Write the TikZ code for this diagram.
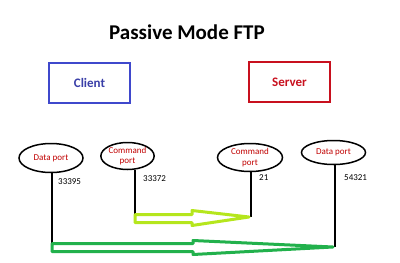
\documentclass[tikz,border=0pt]{standalone}
\usepackage{fontspec}
\setmainfont{Carlito}
\usepackage{xcolor}
\usetikzlibrary{calc,shapes.geometric}

\definecolor{clientblue}{HTML}{3F48CC}
\definecolor{clienttext}{HTML}{3A3FA8}
\definecolor{serverred}{HTML}{C8101E}
\definecolor{portred}{HTML}{C00000}
\definecolor{cmdgreen}{HTML}{B5E61D}
\definecolor{datagreen}{HTML}{22B14C}

\tikzset{
  hostbox/.style={draw, line width=2pt, minimum width=81pt, minimum height=40pt, font=\fontsize{13}{15}\selectfont\bfseries},
  portellipse/.style={draw, ellipse, line width=1.5pt, inner sep=0pt, align=center, text=portred, font=\fontsize{9}{10.5}\selectfont},
  portnum/.style={anchor=west, inner sep=0pt, font=\fontsize{9}{10}\selectfont},
  portline/.style={line width=2pt},
  cmdarrow/.style={draw=cmdgreen, line width=3pt, fill=white, line join=round},
  dataarrow/.style={draw=datagreen, line width=3pt, fill=white, line join=round}
}

\begin{document}
\begin{tikzpicture}[x=1pt, y=-1pt]
    \useasboundingbox (0,0) rectangle (400,263);
    \node[font=\fontsize{21}{25}\selectfont\bfseries] (title) at (187,32) {Passive Mode FTP};
    \node[hostbox, draw=clientblue, text=clienttext] (client) at (89.5,83) {Client};
    \node[hostbox, draw=serverred, text=serverred] (server) at (289.5,82) {Server};

    % ports
    \node[portellipse, minimum width=64pt, minimum height=29pt] (cdata) at (51,158) {Data port};
    \node[portellipse, minimum width=48pt, minimum height=27pt] (ccmd) at (127.5,156) {Command\\port};
    \node[portellipse, minimum width=65pt, minimum height=28pt] (scmd) at (250,157.5) {Command\\port};
    \node[portellipse, minimum width=64pt, minimum height=24pt] (sdata) at (333.5,152.5) {Data port};

    \coordinate (cdataend) at (52,247.5);
    \coordinate (ccmdend) at (135,218.5);
    \coordinate (scmdend) at (251,217);
    \coordinate (sdataend) at (335,247);

    \draw[portline] (cdata.south -| cdataend) -- (cdataend);
    \draw[portline] (ccmd.south -| ccmdend) -- (ccmdend);
    \draw[portline] (scmd.south -| scmdend) -- (scmdend);
    \draw[portline] (sdata.south -| sdataend) -- (sdataend);

    \node[portnum] (cdatanum) at (58,182) {33395};
    \node[portnum] (ccmdnum) at (143,179) {33372};
    \node[portnum] (scmdnum) at (259,178) {21};
    \node[portnum] (sdatanum) at (344,178) {54321};

    % block arrows
    \draw[cmdarrow] ($(ccmdend)+(0,-4)$) -- ($(ccmdend)+(57,-4)$) -- ($(ccmdend)+(57,-8)$)
        -- ($(scmdend)+(-2,0)$) -- ($(ccmdend)+(57,7)$) -- ($(ccmdend)+(57,4)$) -- ($(ccmdend)+(0,4)$) -- cycle;
    \draw[dataarrow] ($(cdataend)+(0,-4)$) -- ($(cdataend)+(141,-4)$) -- ($(cdataend)+(141,-7)$)
        -- ($(sdataend)+(-2,0)$) -- ($(cdataend)+(141,7)$) -- ($(cdataend)+(141,4)$) -- ($(cdataend)+(0,4)$) -- cycle;
\end{tikzpicture}
\end{document}
